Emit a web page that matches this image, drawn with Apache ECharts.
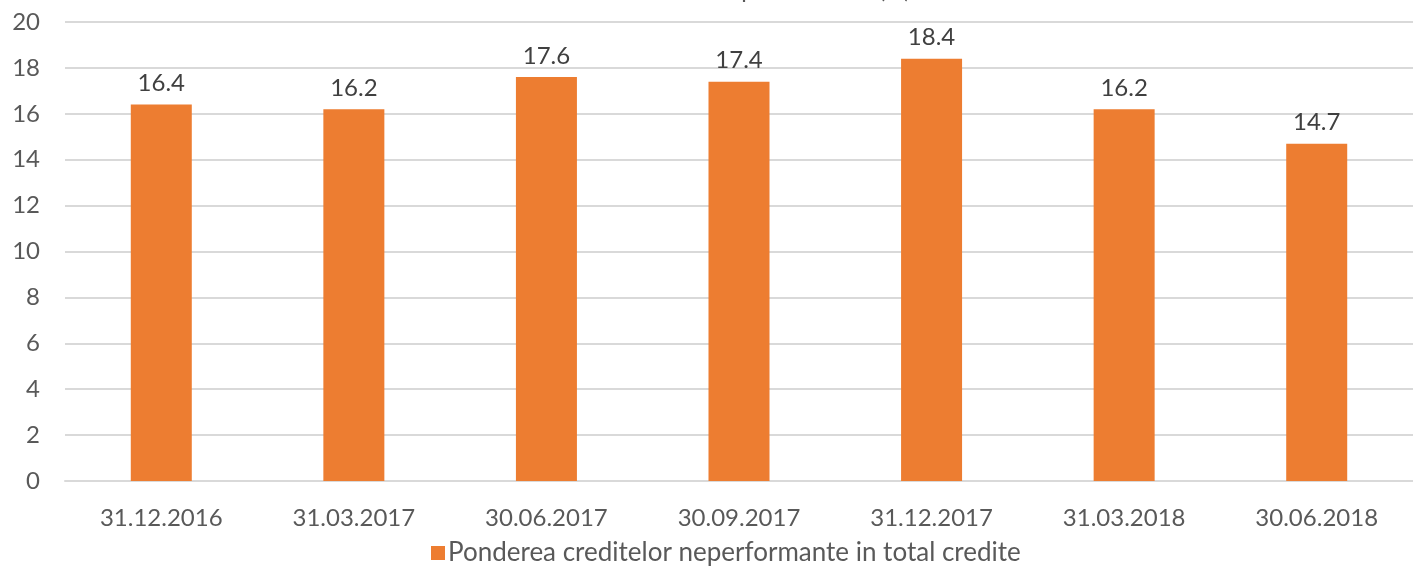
<!DOCTYPE html>
<html>
<head>
<meta charset="utf-8">
<script src="https://cdn.jsdelivr.net/npm/echarts@6/dist/echarts.min.js"></script>
<style>
  html, body { margin: 0; padding: 0; background: #fff; }
  #chart { width: 1413px; height: 566px; }
</style>
</head>
<body>
<div id="chart"></div>
<script>
const dates = ['31.12.2016', '31.03.2017', '30.06.2017', '30.09.2017', '31.12.2017', '31.03.2018', '30.06.2018'];
const npl = [16.4, 16.2, 17.6, 17.4, 18.4, 16.2, 14.7];
const seriesName = 'Ponderea creditelor neperformante in total credite';

const chart = echarts.init(document.getElementById('chart'));
const font = 'Lato, "Open Sans", sans-serif';
const textColor = '#595959';

chart.setOption({
  animation: false,
  title: {
    // titlul e taiat in imaginea originala, se vad doar cozile literelor
    text: 'Ponderea creditelor neperformante (%)',
    left: 'center',
    top: -27,
    textStyle: { fontFamily: font, fontSize: 24, fontWeight: 'normal', color: textColor }
  },
  grid: { left: 65, right: -4, top: 22, bottom: 85 },
  legend: {
    data: [seriesName],
    left: 431,
    top: 540,
    padding: 0,
    icon: 'rect',
    itemWidth: 14,
    itemHeight: 14,
    itemGap: 6,
    textStyle: { fontFamily: font, fontSize: 26, color: textColor, padding: [0, 0, 0, -2] }
  },
  xAxis: {
    type: 'category',
    data: dates,
    axisLine: { lineStyle: { color: '#d9d9d9', width: 2 } },
    axisTick: { show: false },
    axisLabel: { fontFamily: font, fontSize: 24, color: textColor, margin: 25 }
  },
  yAxis: {
    type: 'value',
    min: 0,
    max: 20,
    interval: 2,
    axisLine: { show: false },
    axisTick: { show: false },
    axisLabel: { fontFamily: font, fontSize: 24, color: textColor, margin: 25 },
    splitLine: { lineStyle: { color: '#d9d9d9', width: 2 } }
  },
  series: [{
    name: seriesName,
    type: 'bar',
    data: npl,
    barWidth: 61,
    itemStyle: { color: '#ED7D31' },
    label: {
      show: true,
      position: 'top',
      distance: 9,
      fontFamily: font,
      fontSize: 24,
      color: '#404040',
      formatter: p => p.value.toFixed(1)
    }
  }]
});
</script>
</body>
</html>
